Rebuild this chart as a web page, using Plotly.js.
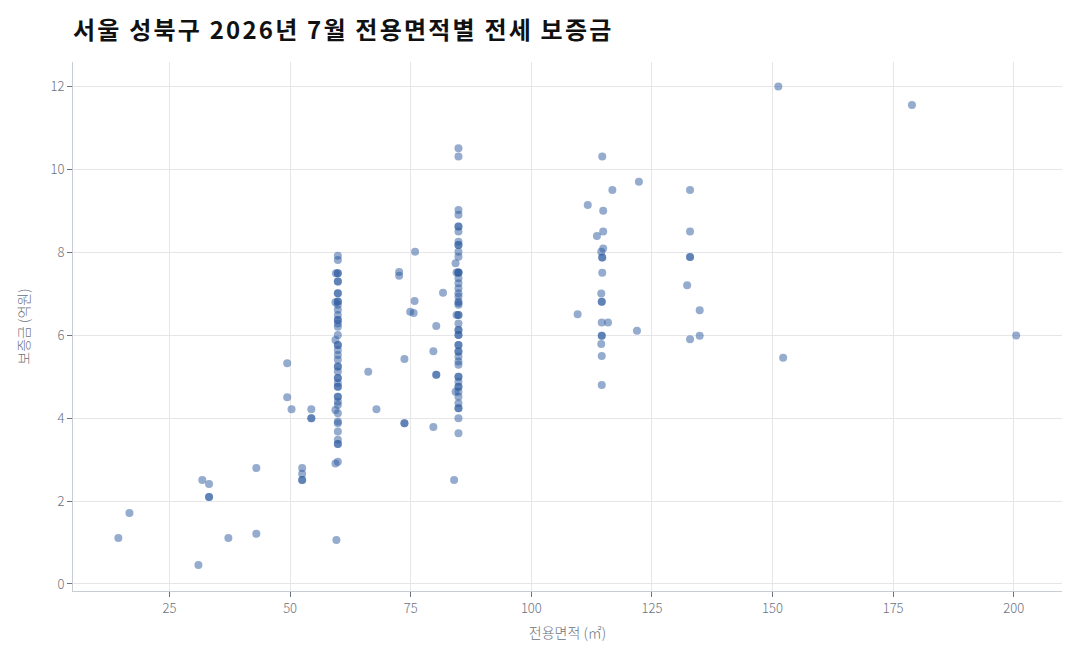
<!DOCTYPE html>
<html>
<head>
<meta charset="utf-8">
<script src="https://cdn.plot.ly/plotly-3.0.1.min.js"></script>
<style>
  html, body { margin: 0; padding: 0; background: #fff; }
  #chart { width: 1080px; height: 660px; }
  #chart .gtitle { letter-spacing: 2.2px; }
</style>
</head>
<body>
<div id="chart"></div>
<script>
// 전용면적 (㎡) / 보증금 (억원)

// scattered small & mid-size units
const otherArea = [14.4, 16.7, 31.0, 31.8, 33.2, 33.2, 33.2, 37.2, 43.0, 43.0,
    49.4, 49.4, 50.3, 54.4, 54.4, 54.4, 52.5, 52.5, 52.5, 52.5,
    59.6, 59.4, 59.9, 66.2, 67.9, 72.6, 72.6, 73.7, 73.7, 73.7,
    74.9, 75.6, 75.8, 75.9, 81.7, 80.3, 79.7, 80.3, 80.3, 79.7, 84.0];
const otherDeposit = [1.11, 1.71, 0.46, 2.51, 2.41, 2.10, 2.10, 1.11, 2.80, 1.21,
    5.33, 4.51, 4.22, 4.22, 4.00, 4.00, 2.80, 2.66, 2.51, 2.51,
    1.06, 2.91, 2.95, 5.12, 4.22, 7.53, 7.44, 5.43, 3.88, 3.88,
    6.57, 6.54, 6.83, 8.02, 7.03, 6.23, 5.62, 5.05, 5.05, 3.79, 2.51];

// the ~59.9㎡ column
const col60Area = [59.9, 59.9, 59.9, 59.9, 59.5, 59.9, 59.9, 59.9, 59.9, 59.9,
    59.9, 59.4, 59.9, 59.9, 59.9, 59.9, 59.9, 59.9, 59.9, 59.9,
    59.4, 59.9, 59.9, 59.9, 59.9, 59.9, 59.9, 59.9, 59.9, 59.9,
    59.9, 59.9, 59.9, 59.9, 59.9, 59.9, 59.9, 59.9, 59.4, 59.9,
    59.9, 59.9, 59.9, 59.9, 59.9, 59.9];
const col60Deposit = [7.92, 7.82, 7.50, 7.50, 7.50, 7.30, 7.30, 7.02, 7.02, 6.82,
    6.82, 6.80, 6.74, 6.62, 6.49, 6.37, 6.37, 6.29, 6.21, 6.01,
    5.89, 5.77, 5.77, 5.65, 5.53, 5.41, 5.25, 5.25, 5.13, 4.97,
    4.97, 4.85, 4.76, 4.76, 4.52, 4.52, 4.40, 4.32, 4.20, 4.12,
    3.92, 3.88, 3.68, 3.48, 3.38, 3.38];

// the ~84.9㎡ column
const col85Area = [84.9, 84.9, 84.9, 84.9, 84.9, 84.9, 84.9, 84.9, 84.9, 84.9,
    84.9, 84.9, 84.3, 84.9, 84.9, 84.9, 84.5, 84.9, 84.9, 84.9,
    84.9, 84.9, 84.9, 84.9, 84.9, 84.9, 84.9, 84.5, 84.9, 84.9,
    84.9, 84.9, 84.9, 84.9, 84.9, 84.9, 84.9, 84.9, 84.9, 84.9,
    84.9, 84.9, 84.9, 84.9, 84.9, 84.9, 84.3, 84.9, 84.9, 84.9,
    84.9, 84.9, 84.9];
const col85Deposit = [10.52, 10.32, 9.03, 8.91, 8.63, 8.63, 8.51, 8.26, 8.18, 8.18,
    8.02, 7.90, 7.74, 7.52, 7.52, 7.52, 7.52, 7.38, 7.26, 7.14,
    7.02, 6.94, 6.78, 6.82, 6.74, 6.49, 6.49, 6.49, 6.29, 6.13,
    6.13, 6.01, 6.01, 5.77, 5.77, 5.61, 5.61, 5.49, 5.37, 5.29,
    5.00, 5.00, 4.88, 4.76, 4.76, 4.64, 4.64, 4.52, 4.36, 4.24,
    4.24, 4.00, 3.64];

// large units
const largeArea = [114.7, 122.3, 116.8, 132.9, 111.7, 114.9, 114.9, 132.9, 113.6, 114.9,
    114.5, 114.7, 114.7, 132.9, 132.9, 114.7, 132.3, 114.5, 114.6, 114.6,
    134.9, 109.6, 114.6, 115.9, 121.9, 114.6, 114.6, 134.9, 132.9, 114.5,
    114.6, 114.6, 151.2, 178.9, 200.5, 152.2];
const largeDeposit = [10.32, 9.71, 9.51, 9.51, 9.15, 9.01, 8.51, 8.51, 8.40, 8.10,
    8.02, 7.88, 7.88, 7.89, 7.89, 7.51, 7.21, 7.01, 6.81, 6.81,
    6.61, 6.51, 6.31, 6.31, 6.11, 5.99, 5.99, 5.99, 5.91, 5.79,
    5.50, 4.80, 12.01, 11.56, 6.00, 5.46];

const xTicks = [25, 50, 75, 100, 125, 150, 175, 200];
const yTicks = [0, 2, 4, 6, 8, 10, 12];

const areaAll = otherArea.concat(col60Area, col85Area, largeArea);
const depositAll = otherDeposit.concat(col60Deposit, col85Deposit, largeDeposit);

const data = [{
    x: areaAll,
    y: depositAll,
    mode: 'markers',
    type: 'scatter',
    hoverinfo: 'x+y',
    marker: {
        size: 8,
        color: 'rgba(44,90,160,0.5)',
        line: {width: 0}
    }
}];

const tickFont = {family: 'Noto Sans CJK KR, Noto Sans, sans-serif', size: 13, color: '#6b7280', weight: 300};
const axisTitleFont = {family: 'Noto Sans CJK KR, sans-serif', size: 14, color: '#6b7280', weight: 300};

const layout = {
    width: 1080,
    height: 660,
    paper_bgcolor: '#ffffff',
    plot_bgcolor: '#ffffff',
    showlegend: false,
    margin: {l: 73, r: 18, t: 62, b: 69},
    title: {
        text: '<b>서울 성북구 2026년 7월 전용면적별 전세 보증금</b>',
        font: {family: 'Noto Sans CJK KR, sans-serif', size: 24, color: '#111111'},
        x: 73 / 1080,
        xanchor: 'left',
        y: 1 - 31 / 660,
        yanchor: 'middle'
    },
    xaxis: {
        range: [5, 210],
        tickvals: xTicks,
        ticktext: xTicks.map(String),
        showgrid: true,
        gridcolor: '#e6e6e9',
        gridwidth: 1,
        zeroline: false,
        showline: true,
        linecolor: '#c8ccd4',
        linewidth: 1,
        ticks: 'outside',
        ticklen: 5,
        tickcolor: '#6b7280',
        tickfont: tickFont,
        title: {
            text: '전용면적 (㎡)',
            font: axisTitleFont,
            standoff: 12
        }
    },
    yaxis: {
        range: [-0.17, 12.6],
        tickvals: yTicks,
        ticktext: yTicks.map(String),
        showgrid: true,
        gridcolor: '#e6e6e9',
        gridwidth: 1,
        zeroline: false,
        showline: true,
        linecolor: '#c8ccd4',
        linewidth: 1,
        ticks: 'outside',
        ticklen: 5,
        tickcolor: '#6b7280',
        tickfont: tickFont,
        title: {
            text: '보증금 (억원)',
            font: axisTitleFont,
            standoff: 17
        }
    }
};

const config = {displayModeBar: false, responsive: false, staticPlot: false};

Plotly.newPlot('chart', data, layout, config);
</script>
</body>
</html>
